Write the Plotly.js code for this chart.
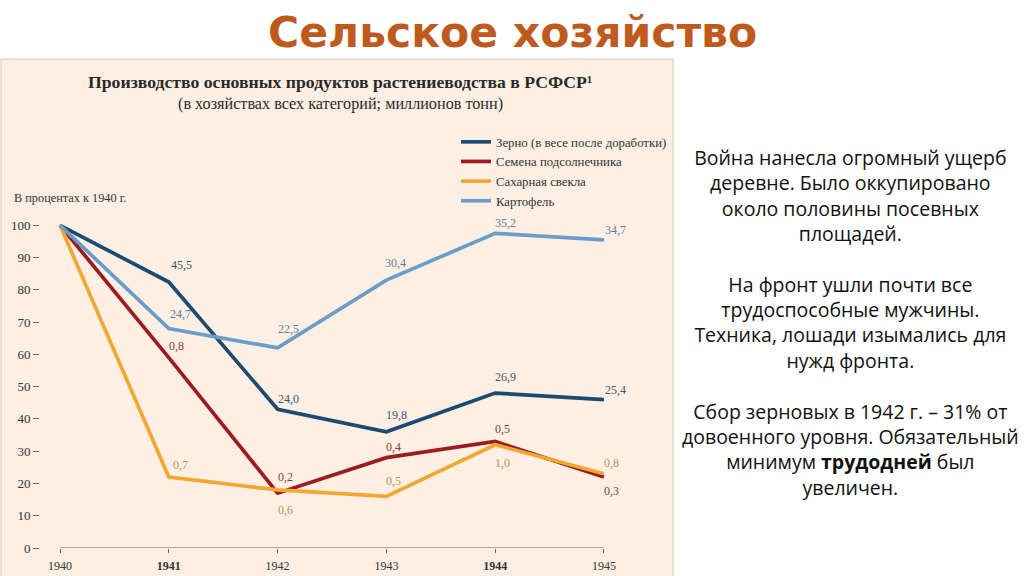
<!DOCTYPE html>
<html>
<head>
<meta charset="utf-8">
<script src="https://cdn.plot.ly/plotly-3.0.1.min.js"></script>
<style>html,body{margin:0;padding:0;background:#fff;}#chart{width:1024px;height:576px;}</style>
</head>
<body>
<div id="chart"></div>
<script>
// ---- data (percent of 1940) ----
const years = [1940, 1941, 1942, 1943, 1944, 1945];
const yearTicks = ['1940', '<b>1941</b>', '1942', '1943', '<b>1944</b>', '1945'];
const yTicks = [0, 10, 20, 30, 40, 50, 60, 70, 80, 90, 100];

const seriesNames = ['Зерно (в весе после доработки)', 'Семена подсолнечника', 'Сахарная свекла', 'Картофель'];
const grain     = [100, 82.4, 43, 36, 48, 46];
const sunflower = [100, 59, 17, 28, 33, 22];
const sugarBeet = [100, 22, 18, 16, 32, 23];
const potato    = [100, 68, 62, 83, 97.5, 95.5];

// labels: million tonnes
const grainLbl     = ['', '45,5', '24,0', '19,8', '26,9', '25,4'];
const sunflowerLbl = ['', '0,8', '0,2', '0,4', '0,5', '0,3'];
const sugarBeetLbl = ['', '0,7', '0,6', '0,5', '1,0', '0,8'];
const potatoLbl    = ['', '24,7', '22,5', '30,4', '35,2', '34,7'];

// ---- styling / placement ----
const L = 40, R = 612, T = 193, B = 548;
const px = x => (x - L) / (R - L);
const py = y => (B - y) / (B - T);
const serif = 'Liberation Serif, Times New Roman, serif';

const styles = [
  {color: '#1b4a72', lbl: '#3d566c', off: [[0,0],[13,-17],[11,-10],[10,-17],[10,-16],[12,-10]]},
  {color: '#9c1c20', lbl: '#8a3b3f', off: [[0,0],[8,-12],[8,-16],[7,-11],[7,-13],[8,14]]},
  {color: '#f2a732', lbl: '#a99a55', off: [[0,0],[12,-12],[8,20],[7,-15],[7,18],[8,-11]]},
  {color: '#6b9dcb', lbl: '#5d7f9c', off: [[0,0],[12,-15],[11,-19],[9,-17],[10,-10],[12,-10]]}
];
const values = [grain, sunflower, sugarBeet, potato];
const labels = [grainLbl, sunflowerLbl, sugarBeetLbl, potatoLbl];

const traces = values.map((v, i) => ({
  type: 'scatter', mode: 'lines', x: years, y: v, name: seriesNames[i],
  line: {color: styles[i].color, width: 3.7}, hoverinfo: 'skip'
}));

const annotations = [];
values.forEach((v, i) => {
  v.forEach((val, j) => {
    if (!labels[i][j]) return;
    annotations.push({
      xref: 'x', yref: 'y', x: years[j], y: val, text: labels[i][j], showarrow: false,
      xanchor: 'center', yanchor: 'middle',
      xshift: styles[i].off[j][0], yshift: -styles[i].off[j][1],
      font: {family: serif, size: 12, color: styles[i].lbl}
    });
  });
});

// titles and side text
const paperText = (x, y, text, font, extra) => Object.assign({
  xref: 'paper', yref: 'paper', x: px(x), y: py(y), text: text, showarrow: false,
  xanchor: 'center', yanchor: 'middle', font: font
}, extra || {});

annotations.push(
  paperText(512, 33, '<b>Сельское хозяйство</b>', {family: 'DejaVu Sans', size: 42.5, color: '#bf5a1e'}),
  paperText(340, 82, '<b>Производство основных продуктов растениеводства в РСФСР¹</b>', {family: serif, size: 17.7, color: '#2a2a2a'}),
  paperText(340, 104, '(в хозяйствах всех категорий; миллионов тонн)', {family: serif, size: 16.2, color: '#2a2a2a'}),
  paperText(12, 198, 'В процентах к 1940 г.', {family: serif, size: 12.3, color: '#333'}, {xanchor: 'left'}),
  paperText(850, 322,
    'Война нанесла огромный ущерб<br>деревне. Было оккупировано<br>около половины посевных<br>площадей.<br> <br>' +
    'На фронт ушли почти все<br>трудоспособные мужчины.<br>Техника, лошади изымались для<br>нужд фронта.<br> <br>' +
    'Сбор зерновых в 1942 г. – 31% от<br>довоенного уровня. Обязательный<br>минимум <b>трудодней</b> был<br>увеличен.',
    {family: 'Open Sans', size: 19.5, color: '#111'}, {align: 'center'})
);

const shapes = [
  {type: 'rect', xref: 'paper', yref: 'paper', x0: px(1), x1: px(673), y0: py(59), y1: py(577),
   fillcolor: '#fdefe3', line: {color: '#d6c6ba', width: 1}, layer: 'below'},
  {type: 'line', xref: 'x', yref: 'y', x0: 1940, x1: 1945, y0: 0, y1: 0, line: {color: '#666', width: 1}}
];

const layout = {
  width: 1024, height: 576,
  margin: {l: L, r: 1024 - R, t: T, b: 576 - B, pad: 0},
  paper_bgcolor: '#ffffff', plot_bgcolor: 'rgba(0,0,0,0)',
  showlegend: true,
  legend: {x: px(456), y: py(127), xanchor: 'left', yanchor: 'top', bgcolor: 'rgba(0,0,0,0)',
           font: {family: serif, size: 12.8, color: '#333'}, tracegroupgap: 0},
  xaxis: {range: [1939.816, 1945.074], tickvals: years, ticktext: yearTicks, showgrid: false, zeroline: false,
          showline: false, ticks: 'outside', ticklen: 4, tickcolor: '#666', ticklabelstandoff: 3,
          tickfont: {family: serif, size: 12, color: '#333'}},
  yaxis: {range: [0, 110], tickvals: yTicks, showgrid: false, zeroline: false, showline: false,
          ticks: 'outside', ticklen: 6, tickcolor: '#666', tickfont: {family: serif, size: 13, color: '#333'}},
  annotations: annotations, shapes: shapes
};

Plotly.newPlot('chart', traces, layout, {displayModeBar: false, staticPlot: true});
</script>
</body>
</html>
